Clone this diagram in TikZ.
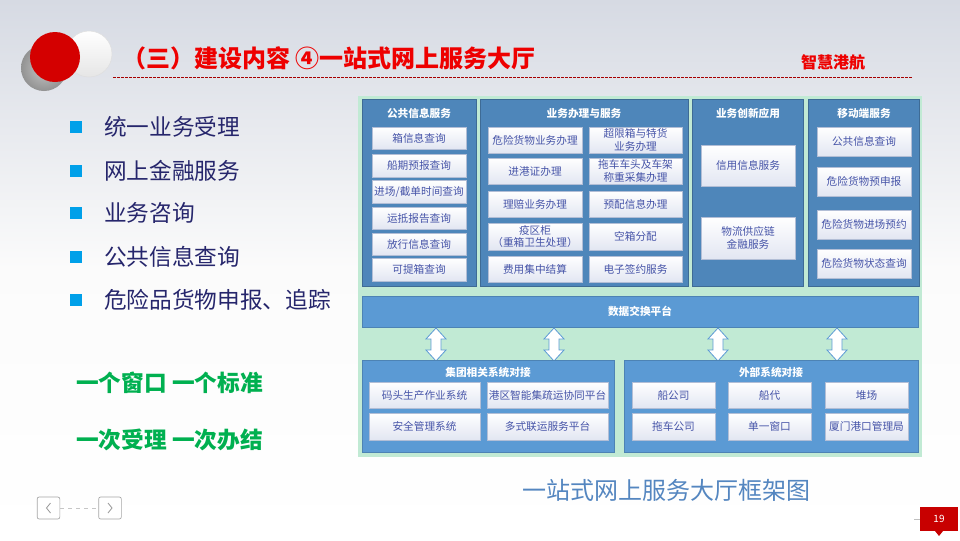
\documentclass[tikz,border=0pt]{standalone}
\usepackage{fontspec}
\setmainfont{Noto Sans CJK SC}
\usetikzlibrary{calc,shadows}
\definecolor{bgtop}{RGB}{214,218,227}
\definecolor{panel}{RGB}{78,134,186}
\definecolor{panelb}{RGB}{91,154,212}
\definecolor{greenbg}{RGB}{193,234,212}
\definecolor{itemtext}{RGB}{70,84,168}
\definecolor{itemborder}{RGB}{178,190,214}
\definecolor{itemshade}{RGB}{226,230,242}
\definecolor{navy}{RGB}{38,38,108}
\definecolor{bulletc}{RGB}{0,160,233}
\definecolor{grn}{RGB}{0,176,80}
\definecolor{capc}{RGB}{84,134,192}
\definecolor{titlered}{RGB}{238,0,0}
\definecolor{logored}{RGB}{212,0,0}
\definecolor{pagered}{RGB}{200,0,0}
\tikzset{
  panelbox/.style={fill=panel, draw=panel!80!black, line width=0.4pt, inner sep=0pt,
    drop shadow={shadow xshift=1pt, shadow yshift=-1pt, opacity=0.25}},
  panelboxb/.style={fill=panelb, draw=panelb!85!black, line width=0.4pt, inner sep=0pt,
    drop shadow={shadow xshift=1pt, shadow yshift=-1pt, opacity=0.25}},
  ptitle/.style={text=white, font=\fontsize{8}{9.5}\selectfont\bfseries, inner sep=0pt},
  itembox/.style={draw=itemborder, line width=0.5pt, top color=white, bottom color=itemshade,
    text=itemtext, font=\fontsize{8}{9.5}\selectfont, align=center, inner sep=0pt},
  listtext/.style={anchor=west, text=navy, font=\fontsize{17}{20}\selectfont, inner sep=0pt},
  bulletbox/.style={fill=bulletc, minimum size=9pt, inner sep=0pt},
  slogan/.style={anchor=west, text=grn, font=\fontsize{17}{20}\selectfont\bfseries, inner sep=0pt},
  darrow/.style={draw=panelb, line width=0.6pt, fill=white},
  navbtn/.style={draw=gray!70, rounded corners=1.5pt, line width=0.5pt, fill=white,
    minimum width=17pt, minimum height=16.5pt, inner sep=0pt},
}
\newcommand\bx[7]{\node[#1, minimum width={(#4-#2)*0.75pt}, minimum height={(#5-#3)*0.75pt}] (#6) at ({(#2+#4)/2},{(#3+#5)/2}) {#7};}
\newcommand\dblarr[1]{\draw[darrow] (#1,328) -- (#1+10,339) -- (#1+5,339) -- (#1+5,350) -- (#1+10,350) -- (#1,361) -- (#1-10,350) -- (#1-5,350) -- (#1-5,339) -- (#1-10,339) -- cycle;}
\begin{document}
\begin{tikzpicture}[x=0.75pt,y=-0.75pt]
\useasboundingbox (0,0) rectangle (960,540);
\shade[top color=bgtop, bottom color=white, middle color=gray!3] (0,0) rectangle (960,540);

% logo
\shade[inner color=gray!45, outer color=gray!85] (44,68) circle (23);
\shade[top color=white, bottom color=gray!20, draw=gray!25] (89,54) circle (23);
\fill[logored] (55,57) circle (25);

% title
\node[anchor=west, text=titlered, font=\fontsize{18}{20}\selectfont\bfseries, inner sep=0pt] (title) at (122,58) {（三）建设内容\ ④一站式网上服务大厅};
\node[text=titlered, font=\fontsize{12}{14}\selectfont\bfseries, inner sep=0pt] (brand) at (833,62) {智慧港航};
\draw[red!65!black, line width=0.6pt, dash pattern=on 2pt off 1pt] (113,77) -- (912,77);

% left list
\foreach \t/\y [count=\i] in {统一业务受理/127, 网上金融服务/171, 业务咨询/213, 公共信息查询/257, 危险品货物申报、追踪/300}{
  \node[bulletbox] (b\i) at (76,\y) {};
  \node[listtext] (l\i) at (104,\y) {\t};
}
\node[slogan] (s1) at (76,383) {一个窗口 一个标准};
\node[slogan] (s2) at (76,440) {一次受理 一次办结};

% diagram background
\fill[greenbg] (358,96) rectangle (922,457);

% top panels
\bx{panelbox}{362}{99}{476}{286}{p1}{}
\bx{panelbox}{480}{99}{688}{286}{p2}{}
\bx{panelbox}{692}{99}{803}{286}{p3}{}
\bx{panelbox}{808}{99}{919}{286}{p4}{}
\node[ptitle] (t1) at (419,113) {公共信息服务};
\node[ptitle] (t2) at (584,113) {业务办理与服务};
\node[ptitle] (t3) at (748,113) {业务创新应用};
\node[ptitle] (t4) at (864,113) {移动端服务};

\bx{itembox}{372}{127}{466}{149}{a1}{箱信息查询}
\bx{itembox}{372}{154}{466}{177}{a2}{船期预报查询}
\bx{itembox}{372}{180}{466}{203}{a3}{进场/截单时间查询}
\bx{itembox}{372}{207}{466}{229}{a4}{运抵报告查询}
\bx{itembox}{372}{233}{466}{255}{a5}{放行信息查询}
\bx{itembox}{372}{258}{466}{281}{a6}{可提箱查询}

\bx{itembox}{488}{127}{582}{153}{b1}{危险货物业务办理}
\bx{itembox}{488}{158}{582}{184}{b2}{进港证办理}
\bx{itembox}{488}{191}{582}{217}{b3}{理赔业务办理}
\bx{itembox}{488}{223}{582}{250}{b4}{疫区柜\\（重箱卫生处理）}
\bx{itembox}{488}{256}{582}{282}{b5}{费用集中结算}
\bx{itembox}{589}{127}{682}{153}{c1}{超限箱与特货\\业务办理}
\bx{itembox}{589}{158}{682}{184}{c2}{拖车车头及车架\\称重采集办理}
\bx{itembox}{589}{191}{682}{217}{c3}{预配信息办理}
\bx{itembox}{589}{223}{682}{250}{c4}{空箱分配}
\bx{itembox}{589}{256}{682}{282}{c5}{电子签约服务}

\bx{itembox}{701}{145}{795}{186}{d1}{信用信息服务}
\bx{itembox}{701}{217}{795}{259}{d2}{物流供应链\\金融服务}

\bx{itembox}{817}{127}{911}{156}{e1}{公共信息查询}
\bx{itembox}{817}{167}{911}{196}{e2}{危险货物预申报}
\bx{itembox}{817}{210}{911}{239}{e3}{危险货物进场预约}
\bx{itembox}{817}{249}{911}{278}{e4}{危险货物状态查询}

% data exchange bar
\bx{panelboxb}{362}{296}{918}{327}{bar}{}
\node[ptitle] (bart) at (bar) {数据交换平台};

% arrows
\dblarr{436}
\dblarr{554}
\dblarr{718}
\dblarr{837}

% bottom panels
\bx{panelboxb}{362}{360}{614}{452}{q1}{}
\bx{panelboxb}{624}{360}{918}{452}{q2}{}
\node[ptitle] (u1) at (488,372) {集团相关系统对接};
\node[ptitle] (u2) at (771,372) {外部系统对接};

\bx{itembox}{369}{382}{480}{408}{f1}{码头生产作业系统}
\bx{itembox}{487}{382}{608}{408}{f2}{港区智能集疏运协同平台}
\bx{itembox}{369}{413}{480}{440}{f3}{安全管理系统}
\bx{itembox}{487}{413}{608}{440}{f4}{多式联运服务平台}

\bx{itembox}{632}{382}{715}{408}{g1}{船公司}
\bx{itembox}{728}{382}{811}{408}{g2}{船代}
\bx{itembox}{825}{382}{908}{408}{g3}{堆场}
\bx{itembox}{632}{413}{715}{440}{g4}{拖车公司}
\bx{itembox}{728}{413}{811}{440}{g5}{单一窗口}
\bx{itembox}{825}{413}{908}{440}{g6}{厦门港口管理局}

% caption
\node[text=capc, font=\fontsize{18}{20}\selectfont, inner sep=0pt] (cap) at (666,490) {一站式网上服务大厅框架图};

% nav buttons
\node[navbtn] (prev) at (48.5,508) {};
\node[navbtn] (next) at (110,508) {};
\draw[gray!45, dashed, line width=0.5pt] (prev) -- (next);
\draw[gray!80, line width=0.6pt] ($(prev)+(2,-5)$) -- ($(prev)+(-2,0)$) -- ($(prev)+(2,5)$);
\draw[gray!80, line width=0.6pt] ($(next)+(-2,-5)$) -- ($(next)+(2,0)$) -- ($(next)+(-2,5)$);

% page number
\bx{fill=pagered, text=white, font=\fontsize{7.5}{9}\selectfont, inner sep=0pt}{920}{507}{958}{531}{pg}{19}
\fill[pagered] (935,531) -- (943,531) -- (939,536) -- cycle;
\draw[gray!50, line width=0.5pt] (914,519) -- (920,519);
\end{tikzpicture}
\end{document}
